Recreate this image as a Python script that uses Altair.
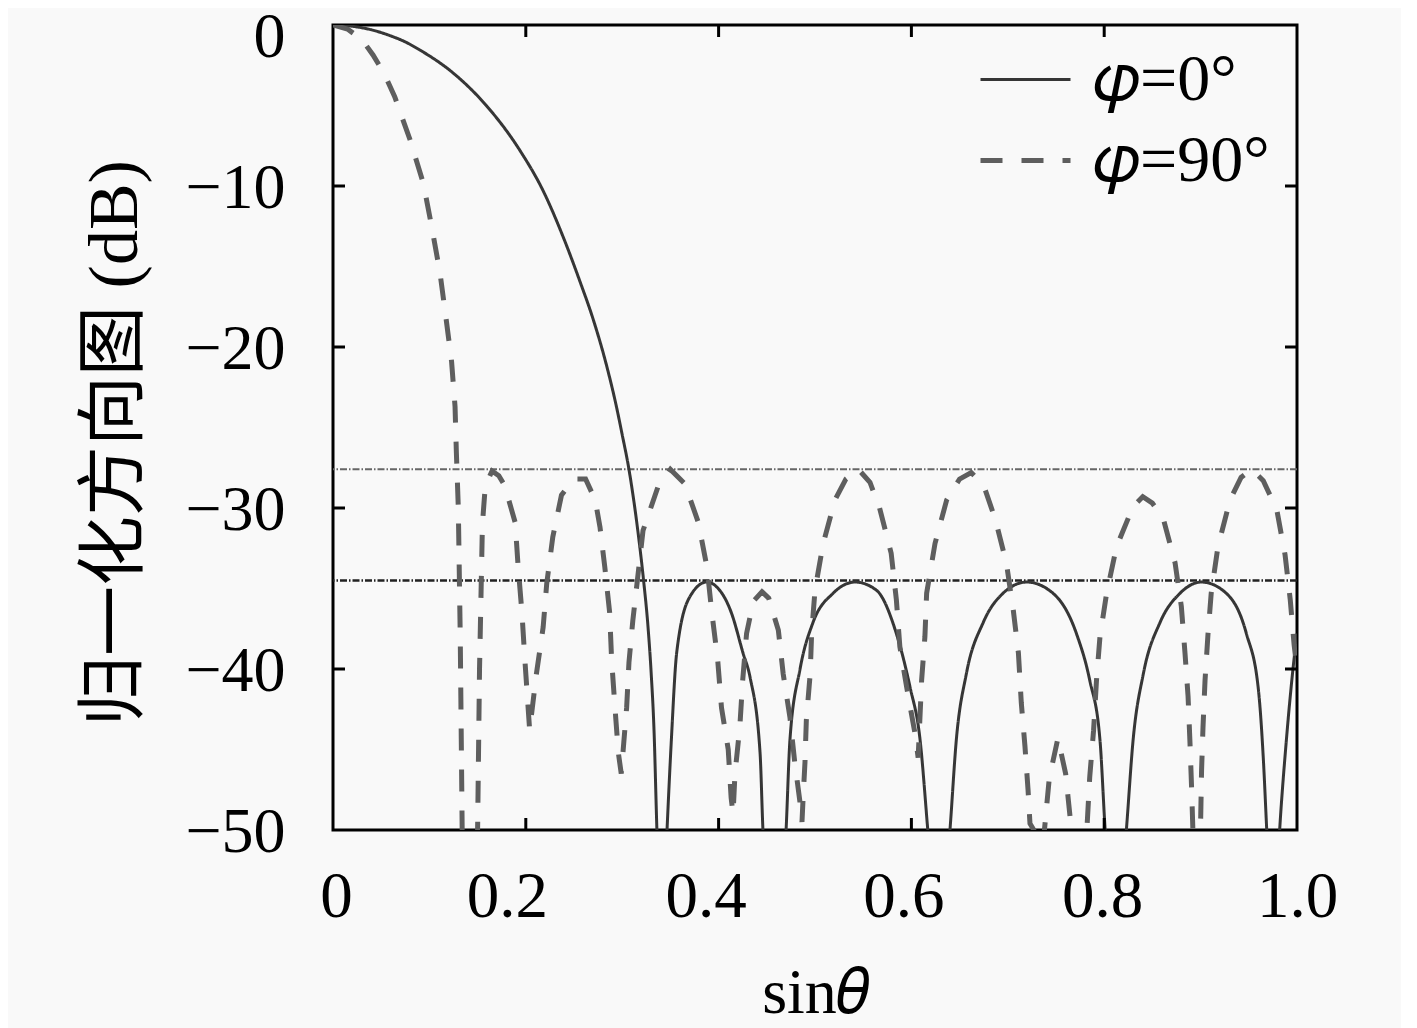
import altair as alt
import pandas as pd

# ---- data ----
series_names = ["𝜑=0°", "𝜑=90°"]

x_phi0 = [0, 0.02, 0.04, 0.06, 0.075, 0.09, 0.125, 0.159, 0.194, 0.218, 0.239, 0.256, 0.270,
          0.284, 0.294, 0.2995, 0.307,
          0.3166, 0.322, 0.3268, 0.330, 0.333, 0.336, 0.341, 0.3465, 0.351, 0.3565, 0.3703,
          0.3876, 0.398, 0.4132, 0.4253, 0.4326, 0.443, 0.446, 0.458, 0.470, 0.474, 0.4845,
          0.498, 0.5187, 0.5415, 0.5636, 0.5844, 0.5985, 0.609, 0.617, 0.628, 0.640, 0.6466,
          0.657, 0.6746, 0.695, 0.7196, 0.747, 0.7712, 0.785, 0.7956, 0.801, 0.812, 0.823,
          0.830, 0.8406, 0.858, 0.8786, 0.901, 0.9267, 0.9475, 0.96, 0.965, 0.9686, 0.975,
          0.982, 0.989, 0.996, 1.0]
db_phi0 = [0, -0.08, -0.3, -0.68, -1.05, -1.55, -3.0, -5.0, -7.8, -10.3, -13.2, -15.9, -18.3,
           -21.2, -23.7, -25.3, -27.6,
           -31.6, -34.4, -37.4, -40.2, -43.8, -50.0, -58.0, -50.0, -44.4, -39.0, -35.5,
           -34.6, -34.9, -36.5, -39.0, -40.5, -45.2, -50.0, -58.0, -50.0, -44.4, -40.0,
           -37.1, -35.3, -34.6, -35.1, -37.8, -41.1, -44.4, -50.0, -58.0, -50.0, -44.4,
           -40.3, -37.1, -35.3, -34.6, -35.3, -37.8, -40.7, -44.4, -50.0, -58.0, -50.0,
           -44.4, -40.3, -37.1, -35.3, -34.6, -35.3, -37.8, -41.3, -45.5, -50.0, -58.0,
           -50.0, -44.4, -39.9, -37.8]

x_phi90 = [0, 0.015, 0.03, 0.0415, 0.053, 0.064, 0.08, 0.0937, 0.1023, 0.111, 0.117, 0.123,
           0.1266, 0.128, 0.130, 0.132, 0.134, 0.142, 0.150, 0.152, 0.155, 0.158, 0.165, 0.172,
           0.178, 0.189, 0.192, 0.196, 0.199, 0.204, 0.211, 0.218, 0.2217, 0.228, 0.237, 0.25,
           0.262, 0.272, 0.277, 0.282, 0.287, 0.289, 0.2925, 0.296, 0.299, 0.3046, 0.307, 0.311,
           0.3216, 0.337, 0.35, 0.365, 0.379, 0.388, 0.393, 0.399, 0.403, 0.41, 0.413, 0.415,
           0.417, 0.422, 0.425, 0.429, 0.436, 0.445, 0.452, 0.462, 0.467, 0.474, 0.479, 0.4845,
           0.4865, 0.4876, 0.4896, 0.491, 0.495, 0.4965, 0.5, 0.5085, 0.5207, 0.532, 0.545,
           0.557, 0.567, 0.579, 0.5844, 0.588, 0.595, 0.6037, 0.607, 0.6106, 0.614, 0.6158,
           0.6245, 0.6366, 0.65, 0.662, 0.675, 0.687, 0.6985, 0.7056, 0.711, 0.714, 0.7178,
           0.721, 0.723, 0.727, 0.733, 0.738, 0.743, 0.752, 0.760, 0.766, 0.774, 0.782, 0.785,
           0.789, 0.792, 0.7956, 0.8025, 0.8128, 0.83, 0.84, 0.85, 0.861, 0.8735, 0.880, 0.8838,
           0.887, 0.889, 0.8906, 0.892, 0.896, 0.9, 0.901, 0.9025, 0.9046, 0.9077, 0.911, 0.918,
           0.9305, 0.942, 0.953, 0.965, 0.979, 0.9876, 0.993, 0.997, 1.0]
db_phi90 = [0, -0.25, -0.9, -1.86, -3.0, -4.45, -7.14, -9.83, -12.5, -15.4, -18.1, -20.9,
            -23.7, -26.6, -30.0, -38.0, -50.0, -60.0, -50.0, -40.0, -31.0, -28.6, -27.7, -28.0,
            -28.6, -30.9, -33.6, -36.5, -39.4, -43.8, -40.3, -37.4, -34.7, -31.8, -29.2, -28.2,
            -28.2, -29.5, -31.2, -33.7, -36.5, -39.4, -42.4, -45.2, -46.5, -42.4, -39.6, -37.0,
            -31.4, -28.7, -27.6, -28.5, -30.9, -33.7, -36.5, -39.4, -42.4, -45.0, -48.0, -49.0,
            -46.5, -43.6, -40.7, -37.8, -35.8, -35.2, -35.6, -37.6, -40.3, -43.0, -45.8, -48.3,
            -49.5, -48.1, -45.8, -43.2, -40.3, -37.8, -35.1, -32.2, -29.5, -28.2, -27.6,
            -28.4, -30.0, -32.8, -35.7, -38.6, -41.1, -44.0, -45.5, -40.7, -38.0, -35.3,
            -32.2, -29.5, -28.2, -27.8, -28.6, -30.7, -33.4, -36.3, -39.0, -42.1, -44.8,
            -47.5, -49.6, -50.0, -55.0, -50.0, -46.8, -44.3, -46.5, -50.0, -55.0, -50.0, -46.7,
            -43.8, -40.7, -38.0, -35.3, -32.4, -29.9, -29.3, -29.7, -30.6, -33.4, -36.1, -39.0,
            -41.7, -44.6, -47.3, -50.0, -54.0, -49.6, -46.3, -43.6, -40.7, -37.8, -35.3, -32.4,
            -29.5, -28.1, -27.6, -28.3, -30.1, -32.9, -35.7, -38.5, -40.0]

ref_levels = [-27.6, -34.5]

x_tick_values = [0, 0.2, 0.4, 0.6, 0.8, 1.0]
y_tick_values = [0, -10, -20, -30, -40, -50]
x_inner_ticks = [0.2, 0.4, 0.6, 0.8]
y_inner_ticks = [-10, -20, -30, -40]

# ---- tables ----
df0 = pd.DataFrame({"x": x_phi0, "db": db_phi0, "series": series_names[0]})
df90 = pd.DataFrame({"x": x_phi90, "db": db_phi90, "series": series_names[1]})
df0["order"] = range(len(df0))
df90["order"] = range(len(df90))

W, H = 964, 805
SERIF = "Liberation Serif, DejaVu Serif, Noto Sans CJK SC"
TICK = 12

# horizontal nudges of the x tick labels, as placed in the reference (style only)
x_label_nudge = {0: 3, 0.2: -19, 0.4: -13, 0.6: -8, 0.8: -2, 1.0: 0}
x_label_offset = {
    "condition": [{"test": f"datum.value == {v}", "value": d} for v, d in x_label_nudge.items()],
    "value": 0,
}
# keep the top "0" label inside the page
y_label_offset = {"condition": {"test": "datum.value == 0", "value": 12}, "value": 2}

xscale = alt.Scale(domain=[0, 1], nice=False, zero=False)
yscale = alt.Scale(domain=[-50, 0], nice=False, zero=False)

x_enc = alt.X("x:Q", scale=xscale, axis=alt.Axis(
    values=x_tick_values,
    labelExpr="datum.value == 0 ? '0' : format(datum.value, '.1f')",
    ticks=False, domain=False, grid=False, labelFlush=False, labelOverlap=False,
    labelFont=SERIF, labelFontSize=65, labelColor="black", labelPadding=35,
    labelOffset=x_label_offset,
    title="sin𝜃", titleFont=SERIF, titleFontSize=64, titleFontWeight="normal",
    titleColor="black", titleX=W / 2, titleY=182, titleAlign="center",
    titleBaseline="alphabetic"))
y_enc = alt.Y("db:Q", scale=yscale, axis=alt.Axis(
    values=y_tick_values,
    labelExpr="replace(format(datum.value, 'd'), '-', '−')",
    ticks=False, domain=False, grid=False, labelFlush=False, labelOverlap=False,
    labelFont=SERIF, labelFontSize=64, labelColor="black", labelPadding=48,
    labelOffset=y_label_offset,
    title="归一化方向图 (dB)", titleFont=SERIF, titleFontSize=70,
    titleFontWeight="normal", titleColor="black", titleX=-218, titleY=H / 2 + 15,
    titleAngle=270, titleAlign="center", titleBaseline="middle"))

color_enc = alt.Color("series:N", scale=alt.Scale(domain=series_names, range=["#363636", "#5e5e5e"]),
                      legend=alt.Legend(title=None, orient="none", legendX=645, legendY=8,
                                        symbolType="stroke", symbolSize=8100, padding=0,
                                        labelFont=SERIF, labelFontSize=66, labelColor="black",
                                        labelOffset=20, rowPadding=-8, labelLimit=500))
dash_enc = alt.StrokeDash("series:N", scale=alt.Scale(domain=series_names, range=[[1, 0], [22, 19]]))
width_enc = alt.StrokeWidth("series:N", scale=alt.Scale(domain=series_names, range=[3, 5]))

line0 = alt.Chart(df0).mark_line(clip=True, strokeCap="butt", interpolate="monotone").encode(
    x=x_enc, y=y_enc, color=color_enc, strokeDash=dash_enc, strokeWidth=width_enc, order="order:Q")
line90 = alt.Chart(df90).mark_line(clip=True, strokeCap="butt").encode(
    x=x_enc, y=y_enc, color=color_enc, strokeDash=dash_enc, strokeWidth=width_enc, order="order:Q")

ref_hi = alt.Chart(pd.DataFrame({"db": [ref_levels[0]]})).mark_rule(
    color="#666666", strokeWidth=2, strokeDash=[7, 2, 1.5, 2]).encode(y="db:Q")
ref_lo = alt.Chart(pd.DataFrame({"db": [ref_levels[1]]})).mark_rule(
    color="#222222", strokeWidth=2.6, strokeDash=[7, 2, 1.5, 2]).encode(y="db:Q")

xt = pd.DataFrame({"x": x_inner_ticks})
yt = pd.DataFrame({"db": y_inner_ticks})
tick_style = dict(color="black", strokeWidth=3)
t_bottom = alt.Chart(xt).mark_rule(**tick_style).encode(x="x:Q", y=alt.value(H), y2=alt.value(H - TICK))
t_top = alt.Chart(xt).mark_rule(**tick_style).encode(x="x:Q", y=alt.value(0), y2=alt.value(TICK))
t_left = alt.Chart(yt).mark_rule(**tick_style).encode(y="db:Q", x=alt.value(0), x2=alt.value(TICK))
t_right = alt.Chart(yt).mark_rule(**tick_style).encode(y="db:Q", x=alt.value(W), x2=alt.value(W - TICK))

chart = alt.layer(ref_hi, ref_lo, line0, line90, t_bottom, t_top, t_left, t_right).properties(
    width=W, height=H,
    autosize=alt.AutoSizeParams(type="none"),
    padding={"left": 325, "top": 17, "right": 104, "bottom": 200},
    background="#f9f9f9",
).configure_view(stroke="black", strokeWidth=3)

chart.save("out.html", embed_options={"renderer": "svg", "actions": False})
